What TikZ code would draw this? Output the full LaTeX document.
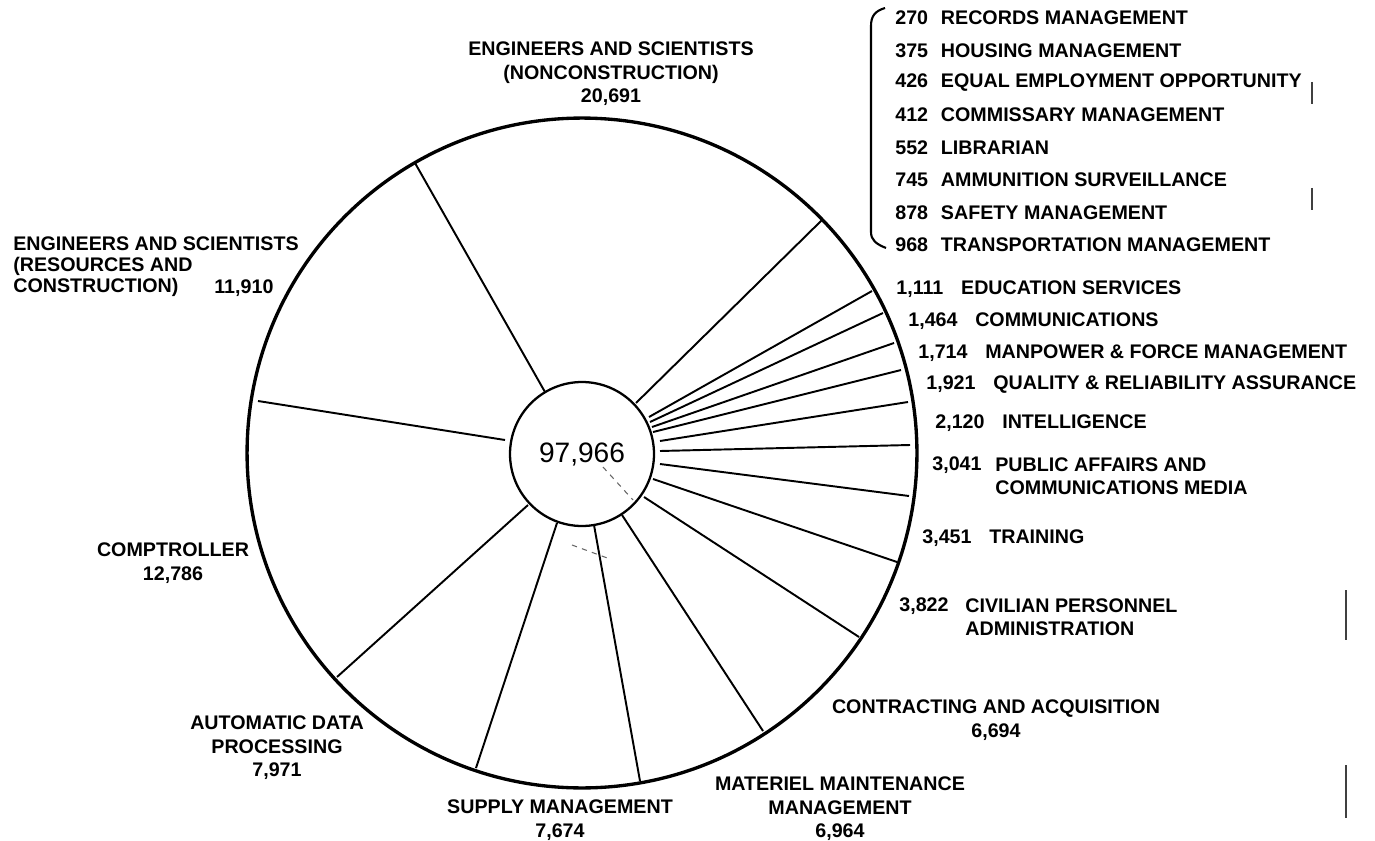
\documentclass[tikz,border=0pt]{standalone}
\usepackage{fontspec}
\setmainfont{Liberation Sans}
\begin{document}
\begin{tikzpicture}[x=0.02cm,y=-0.02cm,
  lab/.style={font=\fontsize{11.2}{13.4}\selectfont\bfseries, inner sep=0pt, align=center},
  labl/.style={lab, align=left, anchor=west},
  spoke/.style={line width=1.1pt},
  rim/.style={line width=1.9pt},
  hub/.style={line width=1.3pt},
  brack/.style={line width=1.2pt},
  scan/.style={line width=0.6pt, black!75},
  scandash/.style={line width=0.6pt, black!60, dash pattern=on 3pt off 3pt}]
\useasboundingbox (0,0) rectangle (1375,841);
% pie
\coordinate (C) at (582,453);
\draw[rim] (C) circle[radius=6.7cm];
\foreach \ix/\iy/\ox/\oy in {545/392/415/163, 636/403/822/220, 505/440/258/401,
  528/505/337/677, 557/523/476/768, 594/525/640/781, 622/515/763/731,
  644/497/859/637, 653/479/897/562, 660/464/909/496, 660/451/910/445,
  660/441/908/402, 653/432/901/370, 652/427/894/343, 650/422/883/313,
  649/417/872/291}
  \draw[spoke] (\ix,\iy) -- (\ox,\oy);
\draw[hub, fill=white] (582,454) circle[radius=1.44cm];
\node[font=\fontsize{16}{18}\selectfont, inner sep=0pt] (total) at (582,454) {97,966};
\draw[scandash] (603,467) -- (633,500);
\draw[scandash] (572,545) -- (610,559);
% labels
\node[lab] (noncon) at (611,74) {ENGINEERS AND SCIENTISTS\\(NONCONSTRUCTION)\\20,691};
\node[labl, font=\fontsize{11.2}{12}\selectfont\bfseries] (res) at (13,267) {ENGINEERS AND SCIENTISTS\\(RESOURCES AND\\CONSTRUCTION)};
\node[labl] (resn) at (214,288) {11,910};
\node[lab] (comp) at (173,563) {COMPTROLLER\\12,786};
\node[lab] (adp) at (277,748) {AUTOMATIC DATA\\PROCESSING\\7,971};
\node[lab] (sup) at (560,820) {SUPPLY MANAGEMENT\\7,674};
\node[lab] (mat) at (840,809) {MATERIEL MAINTENANCE\\MANAGEMENT\\6,964};
\node[lab] (con) at (996,720) {CONTRACTING AND ACQUISITION\\6,694};
\node[labl] (civn) at (899,606) {3,822};
\node[labl] (civ) at (965,617) {CIVILIAN PERSONNEL\\ADMINISTRATION};
\node[labl] (trn) at (922,538) {3,451\hspace{0.9em}TRAINING};
\node[labl] (pubn) at (932,465) {3,041};
\node[labl] (pub) at (995,476) {PUBLIC AFFAIRS AND\\COMMUNICATIONS MEDIA};
\node[labl] (int) at (935,423) {2,120\hspace{0.9em}INTELLIGENCE};
\node[labl] (qua) at (926,385) {1,921\hspace{0.9em}QUALITY \& RELIABILITY ASSURANCE};
\node[labl] (man) at (918,353) {1,714\hspace{0.9em}MANPOWER \& FORCE MANAGEMENT};
\node[labl] (com) at (908,321) {1,464\hspace{0.9em}COMMUNICATIONS};
\node[labl] (edu) at (896,289) {1,111\hspace{0.9em}EDUCATION SERVICES};
% grouped list
\foreach \n/\t [count=\i from 0] in {270/RECORDS MANAGEMENT, 375/HOUSING MANAGEMENT,
  426/EQUAL EMPLOYMENT OPPORTUNITY, 412/COMMISSARY MANAGEMENT, 552/LIBRARIAN,
  745/AMMUNITION SURVEILLANCE, 878/SAFETY MANAGEMENT, 968/TRANSPORTATION MANAGEMENT}
  \node[labl] (g\i) at (895,{18+32.4*\i}) {\n\hspace{0.65em}\t};
\draw[brack] (885,8) .. controls (875,11) and (871,16) .. (871,26) -- (871,232)
  .. controls (871,240) and (876,244) .. (886,248);
% scan marks
\draw[scan] (1312,82) -- (1312,104);
\draw[scan] (1312,188) -- (1312,210);
\draw[scan] (1346,590) -- (1346,640);
\draw[scan] (1346,765) -- (1346,818);
\end{tikzpicture}
\end{document}
